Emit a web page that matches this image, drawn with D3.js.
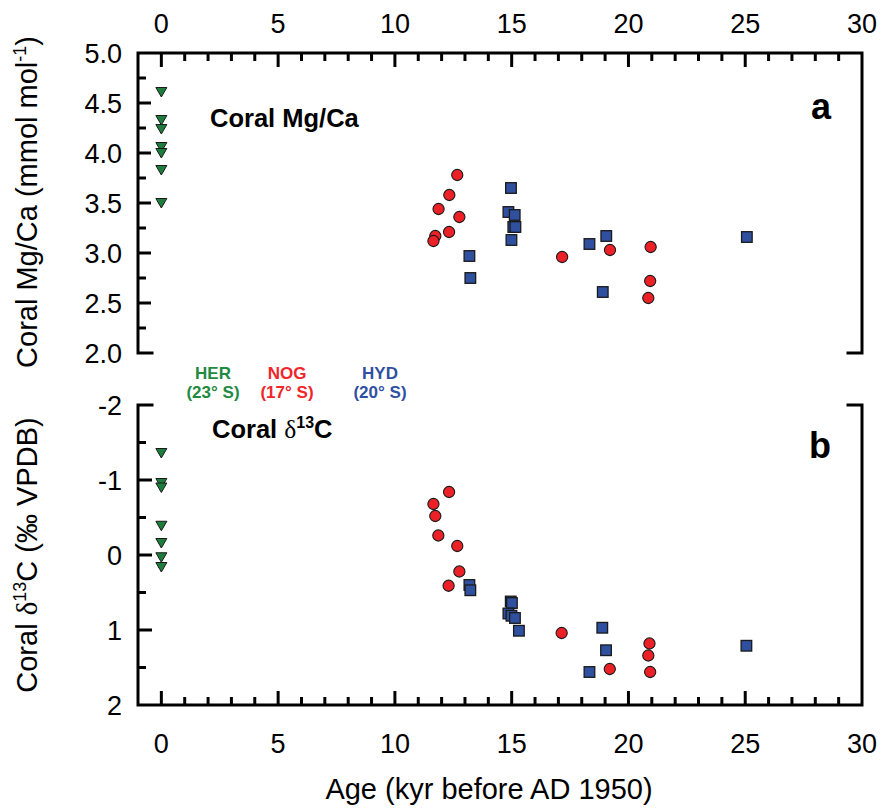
<!DOCTYPE html>
<html>
<head>
<meta charset="utf-8">
<script src="https://cdn.jsdelivr.net/npm/d3@7"></script>
<style>
  body { margin: 0; background: #fff; }
  text { font-family: "Liberation Sans", Arial, Helvetica, sans-serif; }
</style>
</head>
<body>
<svg id="chart" width="884" height="809"></svg>
<script>
// ---- Coral Mg/Ca (mmol/mol) ----
const herMgAge = [0, 0, 0, 0, 0, 0, 0];
const herMg    = [4.61, 4.33, 4.24, 4.06, 4.00, 3.83, 3.50];
const nogMgAge = [12.67, 12.33, 11.87, 12.76, 12.32, 11.73, 11.65, 17.16, 19.21, 20.95, 20.93, 20.85];
const nogMg    = [3.78, 3.58, 3.44, 3.36, 3.21, 3.17, 3.12, 2.96, 3.03, 3.06, 2.72, 2.55];
const hydMgAge = [14.97, 14.86, 15.13, 15.07, 15.16, 14.99, 13.19, 13.23, 19.05, 18.33, 18.90, 25.07];
const hydMg    = [3.65, 3.41, 3.38, 3.26, 3.26, 3.13, 2.97, 2.75, 3.17, 3.09, 2.61, 3.16];

// ---- Coral d13C (permil VPDB) ----
const herCAge = [0, 0, 0, 0, 0, 0, 0];
const herC    = [-1.36, -0.96, -0.90, -0.39, -0.16, 0.03, 0.16];
const nogCAge = [12.32, 11.65, 11.73, 11.86, 12.67, 12.76, 12.30, 17.14, 20.90, 20.85, 20.93, 19.20];
const nogC    = [-0.84, -0.68, -0.52, -0.26, -0.12, 0.22, 0.41, 1.04, 1.18, 1.34, 1.56, 1.52];
const hydCAge = [13.19, 13.23, 14.96, 15.01, 14.86, 14.99, 15.14, 15.31, 18.88, 19.04, 18.33, 25.05];
const hydC    = [0.40, 0.47, 0.62, 0.64, 0.78, 0.81, 0.84, 1.01, 0.97, 1.27, 1.56, 1.21];

// ---- axes ----
const ageTicks   = [0, 5, 10, 15, 20, 25, 30];
const mgTicks    = [2.0, 2.5, 3.0, 3.5, 4.0, 4.5, 5.0];
const carbTicks  = [-2, -1, 0, 1, 2];

// ---- sites ----
const siteNames  = ["HER", "NOG", "HYD"];
const siteLats   = ["(23° S)", "(17° S)", "(20° S)"];

const GREEN = "#1d7d3c", RED = "#ec2127", BLUE = "#2f4f9f";
const LEGEND_COLORS = ["#1f8a40", "#f0262b", "#2f4fa3"];

const svg = d3.select("#chart");
const L = 138, R = 862;
const topP = { y0: 53, y1: 353 };
const botP = { y0: 405, y1: 705 };

const x = d3.scaleLinear().domain([-1, 30]).range([L, R]);
const yMg = d3.scaleLinear().domain([2, 5]).range([topP.y1, topP.y0]);
const yC  = d3.scaleLinear().domain([-2, 2]).range([botP.y0, botP.y1]);

const FRAME_W = 3;

// ----- frames: open between the two panels, short corner stubs -----
function frame(y0, y1, openBottom) {
  const g = svg.append("g").attr("fill", "none").attr("stroke", "#000")
    .attr("stroke-width", FRAME_W).attr("stroke-linecap", "square");
  const stub = 14;
  if (openBottom) {
    g.append("path").attr("d",
      `M${L + stub},${y1} L${L},${y1} L${L},${y0} L${R},${y0} L${R},${y1} L${R - stub},${y1}`);
  } else {
    g.append("path").attr("d",
      `M${L + stub},${y0} L${L},${y0} L${L},${y1} L${R},${y1} L${R},${y0} L${R - stub},${y0}`);
  }
}
frame(topP.y0, topP.y1, true);
frame(botP.y0, botP.y1, false);

// ----- x axes: top of panel a, bottom of panel b (ticks inward) -----
const ageMinor = d3.range(0, 30, 1);
function xTicks(yLine, dir) {
  const g = svg.append("g").attr("stroke", "#000").attr("stroke-width", 3);
  g.selectAll("line").data(ageMinor).join("line")
    .attr("x1", d => x(d)).attr("x2", d => x(d))
    .attr("y1", yLine)
    .attr("y2", d => yLine + dir * (d % 5 === 0 ? 14 : 8));
}
xTicks(topP.y0, 1);
xTicks(botP.y1, -1);

const tickFont = 27;
svg.append("g").selectAll("text").data(ageTicks).join("text")
  .attr("x", d => x(d)).attr("y", 33)
  .attr("text-anchor", "middle").attr("font-size", tickFont)
  .text(d => d);
svg.append("g").selectAll("text").data(ageTicks).join("text")
  .attr("x", d => x(d)).attr("y", 753)
  .attr("text-anchor", "middle").attr("font-size", tickFont)
  .text(d => d);

// ----- y axis, panel a -----
const mgMinor = d3.range(2.25, 5.0, 0.25);
svg.append("g").attr("stroke", "#000").attr("stroke-width", 3)
  .selectAll("line").data(mgMinor).join("line")
  .attr("x1", L).attr("y1", d => yMg(d)).attr("y2", d => yMg(d))
  .attr("x2", d => L + (Math.abs(d * 2 - Math.round(d * 2)) < 1e-6 ? 13 : 8));
svg.append("g").selectAll("text").data(mgTicks).join("text")
  .attr("x", 122).attr("y", d => yMg(d)).attr("dy", "0.36em")
  .attr("text-anchor", "end").attr("font-size", tickFont)
  .text(d => d3.format(".1f")(d));

// ----- y axis, panel b (reversed) -----
const cMinor = d3.range(-1.5, 2.0, 0.5);
svg.append("g").attr("stroke", "#000").attr("stroke-width", 3)
  .selectAll("line").data(cMinor).join("line")
  .attr("x1", L).attr("y1", d => yC(d)).attr("y2", d => yC(d))
  .attr("x2", d => L + (Number.isInteger(d) ? 14 : 8));
svg.append("g").selectAll("text").data(carbTicks).join("text")
  .attr("x", 122).attr("y", d => yC(d)).attr("dy", "0.36em")
  .attr("text-anchor", "end").attr("font-size", tickFont)
  .text(d => d);

// ----- axis titles -----
const titleFont = 29;
const t1 = svg.append("text")
  .attr("transform", `translate(37,${(topP.y0 + topP.y1) / 2 - 1}) rotate(-90)`)
  .attr("text-anchor", "middle").attr("font-size", titleFont);
t1.append("tspan").text("Coral Mg/Ca (mmol mol");
t1.append("tspan").attr("font-size", 18).attr("dy", -11).text("-1");
t1.append("tspan").attr("dy", 11).text(")");

const t2 = svg.append("text")
  .attr("transform", `translate(37,${(botP.y0 + botP.y1) / 2}) rotate(-90)`)
  .attr("text-anchor", "middle").attr("font-size", titleFont);
t2.append("tspan").text("Coral ");
t2.append("tspan").attr("font-family", "'Liberation Serif', 'Times New Roman', serif").text("δ");
t2.append("tspan").attr("font-size", 18).attr("dy", -11).text("13");
t2.append("tspan").attr("dy", 11).text("C (‰ VPDB)");

svg.append("text").attr("x", 489).attr("y", 799)
  .attr("text-anchor", "middle").attr("font-size", titleFont)
  .text("Age (kyr before AD 1950)");

// ----- panel labels -----
svg.append("text").attr("x", 210).attr("y", 127)
  .attr("font-size", 25.5).attr("font-weight", "bold").text("Coral Mg/Ca");
const pb = svg.append("text").attr("x", 212).attr("y", 438)
  .attr("font-size", 25.5).attr("font-weight", "bold");
pb.append("tspan").text("Coral ");
pb.append("tspan").attr("font-weight", "normal")
  .attr("font-family", "'Liberation Serif', 'Times New Roman', serif").text("δ");
pb.append("tspan").attr("font-size", 16).attr("dy", -10).text("13");
pb.append("tspan").attr("dy", 10).text("C");

svg.append("text").attr("x", 831).attr("y", 119).attr("text-anchor", "end")
  .attr("font-size", 36).attr("font-weight", "bold").text("a");
svg.append("text").attr("x", 831).attr("y", 458).attr("text-anchor", "end")
  .attr("font-size", 36).attr("font-weight", "bold").text("b");

// ----- site legend between panels -----
const legendX = [213, 287, 380];
const lg = svg.append("g").attr("font-weight", "bold").attr("font-size", 17)
  .attr("text-anchor", "middle");
lg.selectAll("text.name").data(siteNames).join("text").attr("class", "name")
  .attr("x", (d, i) => legendX[i]).attr("y", 379)
  .attr("fill", (d, i) => LEGEND_COLORS[i]).text(d => d);
lg.selectAll("text.lat").data(siteLats).join("text").attr("class", "lat")
  .attr("x", (d, i) => legendX[i]).attr("y", 398)
  .attr("fill", (d, i) => LEGEND_COLORS[i]).text(d => d);

// ----- markers -----
const STROKE = "#1a1a1a";
function triangles(ages, vals, y) {
  svg.append("g").selectAll("path").data(d3.zip(ages, vals)).join("path")
    .attr("transform", d => `translate(${x(d[0])},${y(d[1])})`)
    .attr("d", "M-5.5,-4.5L5.5,-4.5L0,5Z")
    .attr("fill", GREEN).attr("stroke", STROKE).attr("stroke-width", 1);
}
function circles(ages, vals, y) {
  svg.append("g").selectAll("circle").data(d3.zip(ages, vals)).join("circle")
    .attr("cx", d => x(d[0])).attr("cy", d => y(d[1])).attr("r", 5.6)
    .attr("fill", RED).attr("stroke", STROKE).attr("stroke-width", 1.1);
}
function squares(ages, vals, y) {
  const s = 10.6;
  svg.append("g").selectAll("rect").data(d3.zip(ages, vals)).join("rect")
    .attr("x", d => x(d[0]) - s / 2).attr("y", d => y(d[1]) - s / 2)
    .attr("width", s).attr("height", s)
    .attr("fill", BLUE).attr("stroke", STROKE).attr("stroke-width", 1.3);
}

triangles(herMgAge, herMg, yMg);
circles(nogMgAge, nogMg, yMg);
squares(hydMgAge, hydMg, yMg);

triangles(herCAge, herC, yC);
circles(nogCAge, nogC, yC);
squares(hydCAge, hydC, yC);
</script>
</body>
</html>
